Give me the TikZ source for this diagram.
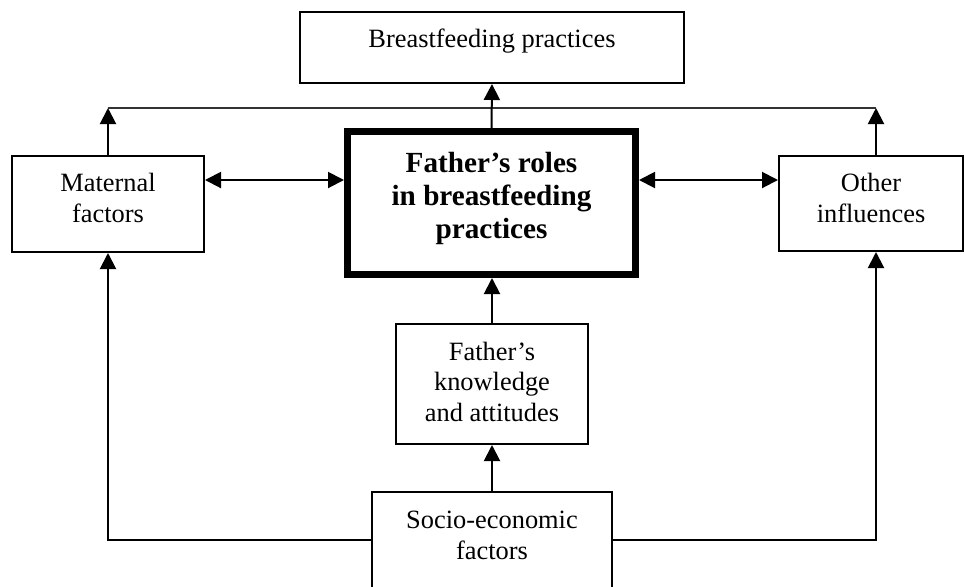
\documentclass[tikz,border=0pt]{standalone}
\usepackage{fontspec}
\setmainfont{Liberation Serif}
\usetikzlibrary{positioning,arrows.meta,calc}

\begin{document}
\begin{tikzpicture}[x=0.5pt, y=-0.5pt,
  box/.style={draw=black, line width=1pt, inner sep=0pt, align=center,
    font=\fontsize{13.2pt}{15.2pt}\selectfont},
  mainbox/.style={draw=black, line width=3.5pt, inner sep=0pt, align=center,
    font=\fontsize{14.6pt}{16.5pt}\selectfont\bfseries},
  link/.style={line width=1pt, -{Triangle[length=8pt,width=8pt]}},
  dbl/.style={line width=1pt, {Triangle[length=8pt,width=8pt]}-{Triangle[length=8pt,width=8pt]}},
  rail/.style={line width=0.6pt, draw=black!80}
]
\useasboundingbox (0,0) rectangle (964,586);

% outcome on top
\node[box, minimum width=192pt, minimum height=35.5pt, text height=8pt, text depth=8pt] (bfp) at (492,47.5) {Breastfeeding practices};

% middle row
\node[box, minimum width=96pt, minimum height=48pt, text height=20pt, text depth=2pt] (mat) at (108,204) {Maternal\\factors};
\node[mainbox, minimum width=144pt, minimum height=71.5pt, text height=37pt, text depth=2pt] (roles) at (491.5,203) {Father’s roles\\in breastfeeding\\practices};
\node[box, minimum width=92pt, minimum height=47.5pt, text height=20.5pt, text depth=2pt] (oth) at (871,203.5) {Other\\influences};

% lower boxes
\node[box, minimum width=96pt, minimum height=60pt, text height=39pt, text depth=2pt] (know) at (492,384) {Father’s\\knowledge\\and attitudes};
\node[box, minimum width=120pt, minimum height=54pt, text height=15pt, text depth=2pt] (soc) at (492,546) {Socio-economic\\factors};

\coordinate (railL) at (108,108);
\coordinate (railR) at (876,108);
\coordinate (mid) at (0,180);
\coordinate (low) at (0,540);

% rail under the outcome
\draw[rail] (railL) -- (railR);
\draw[link] (mat.north) -- (railL);
\draw[link] (railR |- oth.north) -- (railR);
\draw[link] (roles.north) -- (bfp.south);

% two-way links
\draw[dbl] (mat.east |- mid) -- (roles.west |- mid);
\draw[dbl] (roles.east |- mid) -- (oth.west |- mid);

% from the bottom up
\draw[link] (soc.north) -- (know.south);
\draw[link] (know.north) -- (know.north |- roles.south);
\draw[link] (soc.west |- low) -| (mat.south);
\draw[link] (soc.east |- low) -| (railR |- oth.south);
\end{tikzpicture}
\end{document}
